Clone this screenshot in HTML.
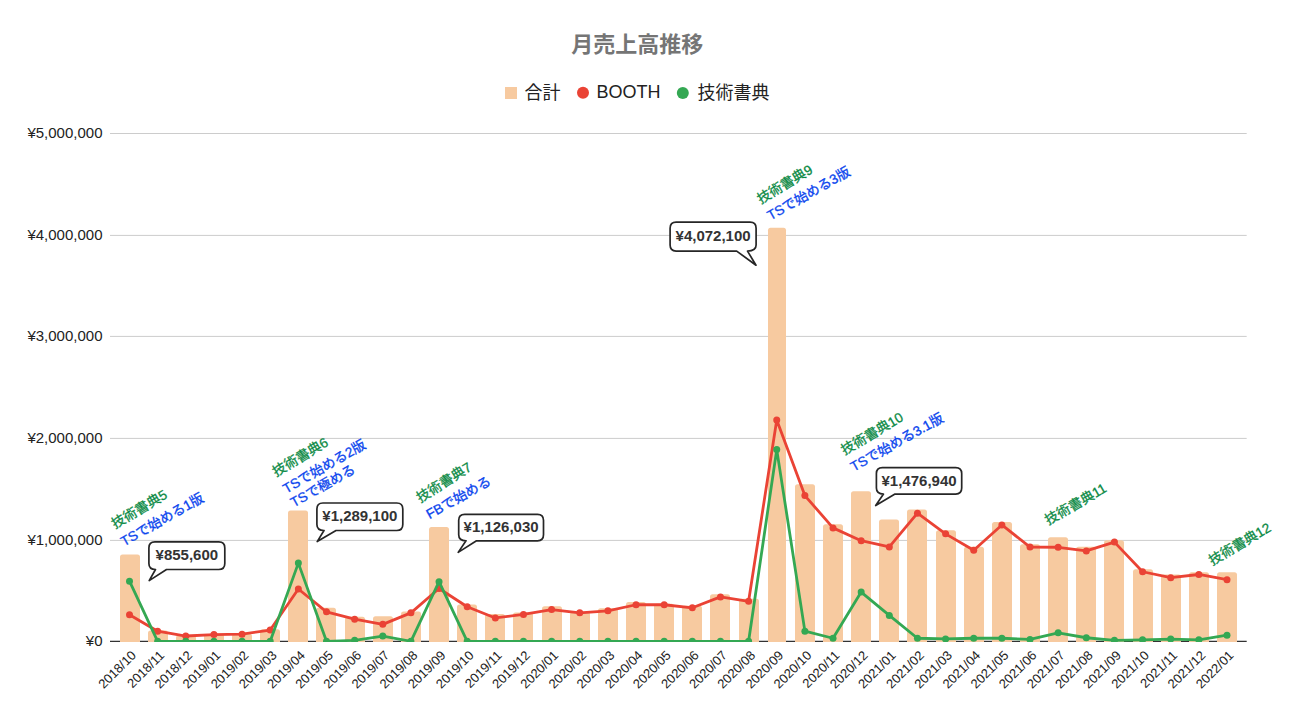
<!DOCTYPE html><html><head><meta charset="utf-8"><title>月売上高推移</title><style>
html,body{margin:0;padding:0;background:#fff;width:1290px;height:720px;overflow:hidden}
svg{display:block}
.lat{font-family:"Liberation Sans",Arial,"Noto Sans CJK JP",sans-serif}
.cjk{font-family:"Liberation Sans","Noto Sans CJK JP",sans-serif}
</style></head><body>
<svg width="1290" height="720" viewBox="0 0 1290 720">
<rect width="1290" height="720" fill="#fff"/>
<defs><clipPath id="ca"><rect x="100" y="0" width="1160" height="641.9"/></clipPath></defs>
<text class="cjk" x="637.3" y="52.2" text-anchor="middle" font-size="22" font-weight="bold" fill="#757575">月売上高推移</text>
<rect x="505" y="87" width="12" height="12" fill="#f7caa0"/>
<text class="cjk" x="524.5" y="99" font-size="18" fill="#222">合計</text>
<circle cx="583" cy="92.8" r="6" fill="#ea4335"/>
<text class="lat" x="596.5" y="98" font-size="18" fill="#222">BOOTH</text>
<circle cx="682.8" cy="93" r="6" fill="#34a853"/>
<text class="cjk" x="697.5" y="99" font-size="18" fill="#222">技術書典</text>
<line x1="110" x2="1246.7" y1="540.40" y2="540.40" stroke="#cccccc" stroke-width="1"/>
<line x1="110" x2="1246.7" y1="438.40" y2="438.40" stroke="#cccccc" stroke-width="1"/>
<line x1="110" x2="1246.7" y1="336.40" y2="336.40" stroke="#cccccc" stroke-width="1"/>
<line x1="110" x2="1246.7" y1="235.40" y2="235.40" stroke="#cccccc" stroke-width="1"/>
<line x1="110" x2="1246.7" y1="133.50" y2="133.50" stroke="#cccccc" stroke-width="1"/>
<text class="lat" x="102.5" y="646.00" text-anchor="end" font-size="15" fill="#222">¥0</text>
<text class="lat" x="102.5" y="545.00" text-anchor="end" font-size="15" fill="#222">¥1,000,000</text>
<text class="lat" x="102.5" y="443.00" text-anchor="end" font-size="15" fill="#222">¥2,000,000</text>
<text class="lat" x="102.5" y="341.00" text-anchor="end" font-size="15" fill="#222">¥3,000,000</text>
<text class="lat" x="102.5" y="240.00" text-anchor="end" font-size="15" fill="#222">¥4,000,000</text>
<text class="lat" x="102.5" y="138.10" text-anchor="end" font-size="15" fill="#222">¥5,000,000</text>
<line x1="110" x2="1246.7" y1="641.4" y2="641.4" stroke="#333" stroke-width="1.3"/>
<path d="M120.00,642.05 V556.92 Q120.00,554.42 122.50,554.42 H137.50 Q140.00,554.42 140.00,556.92 V642.05 Z" fill="#f7caa0"/>
<path d="M148.00,642.05 V633.04 Q148.00,630.54 150.50,630.54 H165.50 Q168.00,630.54 168.00,633.04 V642.05 Z" fill="#f7caa0"/>
<path d="M176.00,642.05 V637.81 Q176.00,635.31 178.50,635.31 H193.50 Q196.00,635.31 196.00,637.81 V642.05 Z" fill="#f7caa0"/>
<path d="M204.00,642.05 V636.49 Q204.00,633.99 206.50,633.99 H221.50 Q224.00,633.99 224.00,636.49 V642.05 Z" fill="#f7caa0"/>
<path d="M232.00,642.05 V636.18 Q232.00,633.68 234.50,633.68 H249.50 Q252.00,633.68 252.00,636.18 V642.05 Z" fill="#f7caa0"/>
<path d="M260.00,642.05 V631.82 Q260.00,629.32 262.50,629.32 H277.50 Q280.00,629.32 280.00,631.82 V642.05 Z" fill="#f7caa0"/>
<path d="M288.00,642.05 V512.90 Q288.00,510.40 290.50,510.40 H305.50 Q308.00,510.40 308.00,512.90 V642.05 Z" fill="#f7caa0"/>
<path d="M316.00,642.05 V610.19 Q316.00,607.69 318.50,607.69 H333.50 Q336.00,607.69 336.00,610.19 V642.05 Z" fill="#f7caa0"/>
<path d="M345.00,642.05 V619.23 Q345.00,616.73 347.50,616.73 H362.50 Q365.00,616.73 365.00,619.23 V642.05 Z" fill="#f7caa0"/>
<path d="M373.00,642.05 V618.72 Q373.00,616.22 375.50,616.22 H390.50 Q393.00,616.22 393.00,618.72 V642.05 Z" fill="#f7caa0"/>
<path d="M401.00,642.05 V614.05 Q401.00,611.55 403.50,611.55 H418.50 Q421.00,611.55 421.00,614.05 V642.05 Z" fill="#f7caa0"/>
<path d="M429.00,642.05 V529.46 Q429.00,526.96 431.50,526.96 H446.50 Q449.00,526.96 449.00,529.46 V642.05 Z" fill="#f7caa0"/>
<path d="M457.00,642.05 V606.94 Q457.00,604.44 459.50,604.44 H474.50 Q477.00,604.44 477.00,606.94 V642.05 Z" fill="#f7caa0"/>
<path d="M485.00,642.05 V616.59 Q485.00,614.09 487.50,614.09 H502.50 Q505.00,614.09 505.00,616.59 V642.05 Z" fill="#f7caa0"/>
<path d="M513.00,642.05 V614.96 Q513.00,612.46 515.50,612.46 H530.50 Q533.00,612.46 533.00,614.96 V642.05 Z" fill="#f7caa0"/>
<path d="M542.00,642.05 V608.77 Q542.00,606.27 544.50,606.27 H559.50 Q562.00,606.27 562.00,608.77 V642.05 Z" fill="#f7caa0"/>
<path d="M570.00,642.05 V614.35 Q570.00,611.85 572.50,611.85 H587.50 Q590.00,611.85 590.00,614.35 V642.05 Z" fill="#f7caa0"/>
<path d="M598.00,642.05 V610.80 Q598.00,608.30 600.50,608.30 H615.50 Q618.00,608.30 618.00,610.80 V642.05 Z" fill="#f7caa0"/>
<path d="M626.00,642.05 V604.61 Q626.00,602.11 628.50,602.11 H643.50 Q646.00,602.11 646.00,604.61 V642.05 Z" fill="#f7caa0"/>
<path d="M654.00,642.05 V606.23 Q654.00,603.73 656.50,603.73 H671.50 Q674.00,603.73 674.00,606.23 V642.05 Z" fill="#f7caa0"/>
<path d="M682.00,642.05 V608.26 Q682.00,605.76 684.50,605.76 H699.50 Q702.00,605.76 702.00,608.26 V642.05 Z" fill="#f7caa0"/>
<path d="M710.00,642.05 V596.79 Q710.00,594.29 712.50,594.29 H727.50 Q730.00,594.29 730.00,596.79 V642.05 Z" fill="#f7caa0"/>
<path d="M739.00,642.05 V601.25 Q739.00,598.75 741.50,598.75 H756.50 Q759.00,598.75 759.00,601.25 V642.05 Z" fill="#f7caa0"/>
<path d="M768.00,642.05 V230.32 Q768.00,227.82 770.50,227.82 H783.50 Q786.00,227.82 786.00,230.32 V642.05 Z" fill="#f7caa0"/>
<path d="M795.00,642.05 V486.82 Q795.00,484.32 797.50,484.32 H812.50 Q815.00,484.32 815.00,486.82 V642.05 Z" fill="#f7caa0"/>
<path d="M823.00,642.05 V526.83 Q823.00,524.33 825.50,524.33 H840.50 Q843.00,524.33 843.00,526.83 V642.05 Z" fill="#f7caa0"/>
<path d="M851.00,642.05 V493.83 Q851.00,491.33 853.50,491.33 H868.50 Q871.00,491.33 871.00,493.83 V642.05 Z" fill="#f7caa0"/>
<path d="M879.00,642.05 V521.95 Q879.00,519.45 881.50,519.45 H896.50 Q899.00,519.45 899.00,521.95 V642.05 Z" fill="#f7caa0"/>
<path d="M907.00,642.05 V512.00 Q907.00,509.50 909.50,509.50 H924.50 Q927.00,509.50 927.00,512.00 V642.05 Z" fill="#f7caa0"/>
<path d="M936.00,642.05 V532.82 Q936.00,530.32 938.50,530.32 H953.50 Q956.00,530.32 956.00,532.82 V642.05 Z" fill="#f7caa0"/>
<path d="M964.00,642.05 V549.37 Q964.00,546.87 966.50,546.87 H981.50 Q984.00,546.87 984.00,549.37 V642.05 Z" fill="#f7caa0"/>
<path d="M992.00,642.05 V524.49 Q992.00,521.99 994.50,521.99 H1009.50 Q1012.00,521.99 1012.00,524.49 V642.05 Z" fill="#f7caa0"/>
<path d="M1020.00,642.05 V546.83 Q1020.00,544.33 1022.50,544.33 H1037.50 Q1040.00,544.33 1040.00,546.83 V642.05 Z" fill="#f7caa0"/>
<path d="M1048.00,642.05 V539.72 Q1048.00,537.22 1050.50,537.22 H1065.50 Q1068.00,537.22 1068.00,539.72 V642.05 Z" fill="#f7caa0"/>
<path d="M1076.00,642.05 V549.37 Q1076.00,546.87 1078.50,546.87 H1093.50 Q1096.00,546.87 1096.00,549.37 V642.05 Z" fill="#f7caa0"/>
<path d="M1104.00,642.05 V542.67 Q1104.00,540.17 1106.50,540.17 H1121.50 Q1124.00,540.17 1124.00,542.67 V642.05 Z" fill="#f7caa0"/>
<path d="M1133.00,642.05 V571.81 Q1133.00,569.31 1135.50,569.31 H1150.50 Q1153.00,569.31 1153.00,571.81 V642.05 Z" fill="#f7caa0"/>
<path d="M1161.00,642.05 V576.99 Q1161.00,574.49 1163.50,574.49 H1178.50 Q1181.00,574.49 1181.00,576.99 V642.05 Z" fill="#f7caa0"/>
<path d="M1189.00,642.05 V574.65 Q1189.00,572.15 1191.50,572.15 H1206.50 Q1209.00,572.15 1209.00,574.65 V642.05 Z" fill="#f7caa0"/>
<path d="M1217.00,642.05 V574.65 Q1217.00,572.15 1219.50,572.15 H1234.50 Q1237.00,572.15 1237.00,574.65 V642.05 Z" fill="#f7caa0"/>
<g clip-path="url(#ca)">
<polyline points="129.50,614.80 157.64,631.20 185.78,636.02 213.92,634.60 242.06,634.19 270.20,630.03 298.35,589.01 326.49,611.85 354.63,619.16 382.77,624.34 410.91,612.87 439.05,588.50 467.19,606.78 495.33,617.95 523.47,614.39 551.62,609.52 579.76,612.87 607.90,610.84 636.04,604.75 664.18,604.75 692.32,607.79 720.46,596.93 748.60,601.29 776.74,419.94 804.88,495.59 833.02,527.88 861.17,540.67 889.31,546.97 917.45,513.16 945.59,533.87 973.73,550.22 1001.87,524.94 1030.01,547.07 1058.15,547.27 1086.29,550.93 1114.43,542.10 1142.58,571.75 1170.72,577.63 1198.86,574.49 1227.00,579.67" fill="none" stroke="#ea4335" stroke-width="2.8" stroke-linejoin="round" stroke-linecap="round"/>
<circle cx="129.50" cy="614.80" r="3.5" fill="#ea4335"/>
<circle cx="157.64" cy="631.20" r="3.5" fill="#ea4335"/>
<circle cx="185.78" cy="636.02" r="3.5" fill="#ea4335"/>
<circle cx="213.92" cy="634.60" r="3.5" fill="#ea4335"/>
<circle cx="242.06" cy="634.19" r="3.5" fill="#ea4335"/>
<circle cx="270.20" cy="630.03" r="3.5" fill="#ea4335"/>
<circle cx="298.35" cy="589.01" r="3.5" fill="#ea4335"/>
<circle cx="326.49" cy="611.85" r="3.5" fill="#ea4335"/>
<circle cx="354.63" cy="619.16" r="3.5" fill="#ea4335"/>
<circle cx="382.77" cy="624.34" r="3.5" fill="#ea4335"/>
<circle cx="410.91" cy="612.87" r="3.5" fill="#ea4335"/>
<circle cx="439.05" cy="588.50" r="3.5" fill="#ea4335"/>
<circle cx="467.19" cy="606.78" r="3.5" fill="#ea4335"/>
<circle cx="495.33" cy="617.95" r="3.5" fill="#ea4335"/>
<circle cx="523.47" cy="614.39" r="3.5" fill="#ea4335"/>
<circle cx="551.62" cy="609.52" r="3.5" fill="#ea4335"/>
<circle cx="579.76" cy="612.87" r="3.5" fill="#ea4335"/>
<circle cx="607.90" cy="610.84" r="3.5" fill="#ea4335"/>
<circle cx="636.04" cy="604.75" r="3.5" fill="#ea4335"/>
<circle cx="664.18" cy="604.75" r="3.5" fill="#ea4335"/>
<circle cx="692.32" cy="607.79" r="3.5" fill="#ea4335"/>
<circle cx="720.46" cy="596.93" r="3.5" fill="#ea4335"/>
<circle cx="748.60" cy="601.29" r="3.5" fill="#ea4335"/>
<circle cx="776.74" cy="419.94" r="3.5" fill="#ea4335"/>
<circle cx="804.88" cy="495.59" r="3.5" fill="#ea4335"/>
<circle cx="833.02" cy="527.88" r="3.5" fill="#ea4335"/>
<circle cx="861.17" cy="540.67" r="3.5" fill="#ea4335"/>
<circle cx="889.31" cy="546.97" r="3.5" fill="#ea4335"/>
<circle cx="917.45" cy="513.16" r="3.5" fill="#ea4335"/>
<circle cx="945.59" cy="533.87" r="3.5" fill="#ea4335"/>
<circle cx="973.73" cy="550.22" r="3.5" fill="#ea4335"/>
<circle cx="1001.87" cy="524.94" r="3.5" fill="#ea4335"/>
<circle cx="1030.01" cy="547.07" r="3.5" fill="#ea4335"/>
<circle cx="1058.15" cy="547.27" r="3.5" fill="#ea4335"/>
<circle cx="1086.29" cy="550.93" r="3.5" fill="#ea4335"/>
<circle cx="1114.43" cy="542.10" r="3.5" fill="#ea4335"/>
<circle cx="1142.58" cy="571.75" r="3.5" fill="#ea4335"/>
<circle cx="1170.72" cy="577.63" r="3.5" fill="#ea4335"/>
<circle cx="1198.86" cy="574.49" r="3.5" fill="#ea4335"/>
<circle cx="1227.00" cy="579.67" r="3.5" fill="#ea4335"/>
<polyline points="129.50,581.19 157.64,641.30 185.78,641.30 213.92,641.30 242.06,641.30 270.20,641.30 298.35,563.11 326.49,641.30 354.63,640.28 382.77,636.02 410.91,641.30 439.05,581.70 467.19,641.30 495.33,641.30 523.47,641.30 551.62,641.30 579.76,641.30 607.90,641.30 636.04,641.30 664.18,641.30 692.32,641.30 720.46,641.30 748.60,641.30 776.74,449.59 804.88,631.15 833.02,638.25 861.17,592.05 889.31,615.41 917.45,638.25 945.59,638.96 973.73,638.25 1001.87,638.25 1030.01,639.47 1058.15,632.77 1086.29,637.75 1114.43,640.28 1142.58,639.78 1170.72,639.07 1198.86,639.78 1227.00,635.21" fill="none" stroke="#34a853" stroke-width="2.8" stroke-linejoin="round" stroke-linecap="round"/>
<circle cx="129.50" cy="581.19" r="3.5" fill="#34a853"/>
<circle cx="157.64" cy="641.30" r="3.5" fill="#34a853"/>
<circle cx="185.78" cy="641.30" r="3.5" fill="#34a853"/>
<circle cx="213.92" cy="641.30" r="3.5" fill="#34a853"/>
<circle cx="242.06" cy="641.30" r="3.5" fill="#34a853"/>
<circle cx="270.20" cy="641.30" r="3.5" fill="#34a853"/>
<circle cx="298.35" cy="563.11" r="3.5" fill="#34a853"/>
<circle cx="326.49" cy="641.30" r="3.5" fill="#34a853"/>
<circle cx="354.63" cy="640.28" r="3.5" fill="#34a853"/>
<circle cx="382.77" cy="636.02" r="3.5" fill="#34a853"/>
<circle cx="410.91" cy="641.30" r="3.5" fill="#34a853"/>
<circle cx="439.05" cy="581.70" r="3.5" fill="#34a853"/>
<circle cx="467.19" cy="641.30" r="3.5" fill="#34a853"/>
<circle cx="495.33" cy="641.30" r="3.5" fill="#34a853"/>
<circle cx="523.47" cy="641.30" r="3.5" fill="#34a853"/>
<circle cx="551.62" cy="641.30" r="3.5" fill="#34a853"/>
<circle cx="579.76" cy="641.30" r="3.5" fill="#34a853"/>
<circle cx="607.90" cy="641.30" r="3.5" fill="#34a853"/>
<circle cx="636.04" cy="641.30" r="3.5" fill="#34a853"/>
<circle cx="664.18" cy="641.30" r="3.5" fill="#34a853"/>
<circle cx="692.32" cy="641.30" r="3.5" fill="#34a853"/>
<circle cx="720.46" cy="641.30" r="3.5" fill="#34a853"/>
<circle cx="748.60" cy="641.30" r="3.5" fill="#34a853"/>
<circle cx="776.74" cy="449.59" r="3.5" fill="#34a853"/>
<circle cx="804.88" cy="631.15" r="3.5" fill="#34a853"/>
<circle cx="833.02" cy="638.25" r="3.5" fill="#34a853"/>
<circle cx="861.17" cy="592.05" r="3.5" fill="#34a853"/>
<circle cx="889.31" cy="615.41" r="3.5" fill="#34a853"/>
<circle cx="917.45" cy="638.25" r="3.5" fill="#34a853"/>
<circle cx="945.59" cy="638.96" r="3.5" fill="#34a853"/>
<circle cx="973.73" cy="638.25" r="3.5" fill="#34a853"/>
<circle cx="1001.87" cy="638.25" r="3.5" fill="#34a853"/>
<circle cx="1030.01" cy="639.47" r="3.5" fill="#34a853"/>
<circle cx="1058.15" cy="632.77" r="3.5" fill="#34a853"/>
<circle cx="1086.29" cy="637.75" r="3.5" fill="#34a853"/>
<circle cx="1114.43" cy="640.28" r="3.5" fill="#34a853"/>
<circle cx="1142.58" cy="639.78" r="3.5" fill="#34a853"/>
<circle cx="1170.72" cy="639.07" r="3.5" fill="#34a853"/>
<circle cx="1198.86" cy="639.78" r="3.5" fill="#34a853"/>
<circle cx="1227.00" cy="635.21" r="3.5" fill="#34a853"/>
</g>
<text class="lat" x="136.90" y="656.10" text-anchor="end" font-size="13" fill="#222" transform="rotate(-45 136.90 656.10)">2018/10</text>
<text class="lat" x="165.04" y="656.10" text-anchor="end" font-size="13" fill="#222" transform="rotate(-45 165.04 656.10)">2018/11</text>
<text class="lat" x="193.18" y="656.10" text-anchor="end" font-size="13" fill="#222" transform="rotate(-45 193.18 656.10)">2018/12</text>
<text class="lat" x="221.32" y="656.10" text-anchor="end" font-size="13" fill="#222" transform="rotate(-45 221.32 656.10)">2019/01</text>
<text class="lat" x="249.46" y="656.10" text-anchor="end" font-size="13" fill="#222" transform="rotate(-45 249.46 656.10)">2019/02</text>
<text class="lat" x="277.60" y="656.10" text-anchor="end" font-size="13" fill="#222" transform="rotate(-45 277.60 656.10)">2019/03</text>
<text class="lat" x="305.75" y="656.10" text-anchor="end" font-size="13" fill="#222" transform="rotate(-45 305.75 656.10)">2019/04</text>
<text class="lat" x="333.89" y="656.10" text-anchor="end" font-size="13" fill="#222" transform="rotate(-45 333.89 656.10)">2019/05</text>
<text class="lat" x="362.03" y="656.10" text-anchor="end" font-size="13" fill="#222" transform="rotate(-45 362.03 656.10)">2019/06</text>
<text class="lat" x="390.17" y="656.10" text-anchor="end" font-size="13" fill="#222" transform="rotate(-45 390.17 656.10)">2019/07</text>
<text class="lat" x="418.31" y="656.10" text-anchor="end" font-size="13" fill="#222" transform="rotate(-45 418.31 656.10)">2019/08</text>
<text class="lat" x="446.45" y="656.10" text-anchor="end" font-size="13" fill="#222" transform="rotate(-45 446.45 656.10)">2019/09</text>
<text class="lat" x="474.59" y="656.10" text-anchor="end" font-size="13" fill="#222" transform="rotate(-45 474.59 656.10)">2019/10</text>
<text class="lat" x="502.73" y="656.10" text-anchor="end" font-size="13" fill="#222" transform="rotate(-45 502.73 656.10)">2019/11</text>
<text class="lat" x="530.87" y="656.10" text-anchor="end" font-size="13" fill="#222" transform="rotate(-45 530.87 656.10)">2019/12</text>
<text class="lat" x="559.01" y="656.10" text-anchor="end" font-size="13" fill="#222" transform="rotate(-45 559.01 656.10)">2020/01</text>
<text class="lat" x="587.16" y="656.10" text-anchor="end" font-size="13" fill="#222" transform="rotate(-45 587.16 656.10)">2020/02</text>
<text class="lat" x="615.30" y="656.10" text-anchor="end" font-size="13" fill="#222" transform="rotate(-45 615.30 656.10)">2020/03</text>
<text class="lat" x="643.44" y="656.10" text-anchor="end" font-size="13" fill="#222" transform="rotate(-45 643.44 656.10)">2020/04</text>
<text class="lat" x="671.58" y="656.10" text-anchor="end" font-size="13" fill="#222" transform="rotate(-45 671.58 656.10)">2020/05</text>
<text class="lat" x="699.72" y="656.10" text-anchor="end" font-size="13" fill="#222" transform="rotate(-45 699.72 656.10)">2020/06</text>
<text class="lat" x="727.86" y="656.10" text-anchor="end" font-size="13" fill="#222" transform="rotate(-45 727.86 656.10)">2020/07</text>
<text class="lat" x="756.00" y="656.10" text-anchor="end" font-size="13" fill="#222" transform="rotate(-45 756.00 656.10)">2020/08</text>
<text class="lat" x="784.14" y="656.10" text-anchor="end" font-size="13" fill="#222" transform="rotate(-45 784.14 656.10)">2020/09</text>
<text class="lat" x="812.28" y="656.10" text-anchor="end" font-size="13" fill="#222" transform="rotate(-45 812.28 656.10)">2020/10</text>
<text class="lat" x="840.42" y="656.10" text-anchor="end" font-size="13" fill="#222" transform="rotate(-45 840.42 656.10)">2020/11</text>
<text class="lat" x="868.57" y="656.10" text-anchor="end" font-size="13" fill="#222" transform="rotate(-45 868.57 656.10)">2020/12</text>
<text class="lat" x="896.71" y="656.10" text-anchor="end" font-size="13" fill="#222" transform="rotate(-45 896.71 656.10)">2021/01</text>
<text class="lat" x="924.85" y="656.10" text-anchor="end" font-size="13" fill="#222" transform="rotate(-45 924.85 656.10)">2021/02</text>
<text class="lat" x="952.99" y="656.10" text-anchor="end" font-size="13" fill="#222" transform="rotate(-45 952.99 656.10)">2021/03</text>
<text class="lat" x="981.13" y="656.10" text-anchor="end" font-size="13" fill="#222" transform="rotate(-45 981.13 656.10)">2021/04</text>
<text class="lat" x="1009.27" y="656.10" text-anchor="end" font-size="13" fill="#222" transform="rotate(-45 1009.27 656.10)">2021/05</text>
<text class="lat" x="1037.41" y="656.10" text-anchor="end" font-size="13" fill="#222" transform="rotate(-45 1037.41 656.10)">2021/06</text>
<text class="lat" x="1065.55" y="656.10" text-anchor="end" font-size="13" fill="#222" transform="rotate(-45 1065.55 656.10)">2021/07</text>
<text class="lat" x="1093.69" y="656.10" text-anchor="end" font-size="13" fill="#222" transform="rotate(-45 1093.69 656.10)">2021/08</text>
<text class="lat" x="1121.84" y="656.10" text-anchor="end" font-size="13" fill="#222" transform="rotate(-45 1121.84 656.10)">2021/09</text>
<text class="lat" x="1149.98" y="656.10" text-anchor="end" font-size="13" fill="#222" transform="rotate(-45 1149.98 656.10)">2021/10</text>
<text class="lat" x="1178.12" y="656.10" text-anchor="end" font-size="13" fill="#222" transform="rotate(-45 1178.12 656.10)">2021/11</text>
<text class="lat" x="1206.26" y="656.10" text-anchor="end" font-size="13" fill="#222" transform="rotate(-45 1206.26 656.10)">2021/12</text>
<text class="lat" x="1234.40" y="656.10" text-anchor="end" font-size="13" fill="#222" transform="rotate(-45 1234.40 656.10)">2022/01</text>
<text class="cjk" x="0" y="0" font-size="13.6" font-weight="400" fill="#0b8a45" stroke="#0b8a45" stroke-width="0.3" transform="translate(115.10 529.10) rotate(-30.78)">技術書典5</text>
<text class="cjk" x="0" y="0" font-size="13.6" font-weight="400" fill="#0a45ee" stroke="#0a45ee" stroke-width="0.3" transform="translate(124.10 546.45) rotate(-29.51)">TSで始める1版</text>
<text class="cjk" x="0" y="0" font-size="13.6" font-weight="400" fill="#0b8a45" stroke="#0b8a45" stroke-width="0.3" transform="translate(276.10 476.90) rotate(-30.85)">技術書典6</text>
<text class="cjk" x="0" y="0" font-size="13.6" font-weight="400" fill="#0a45ee" stroke="#0a45ee" stroke-width="0.3" transform="translate(286.30 493.65) rotate(-29.81)">TSで始める2版</text>
<text class="cjk" x="0" y="0" font-size="13.6" font-weight="400" fill="#0a45ee" stroke="#0a45ee" stroke-width="0.3" transform="translate(293.85 507.45) rotate(-29.22)">TSで極める</text>
<text class="cjk" x="0" y="0" font-size="13.6" font-weight="400" fill="#0b8a45" stroke="#0b8a45" stroke-width="0.3" transform="translate(420.35 502.90) rotate(-32.35)">技術書典7</text>
<text class="cjk" x="0" y="0" font-size="13.6" font-weight="400" fill="#0a45ee" stroke="#0a45ee" stroke-width="0.3" transform="translate(429.55 519.35) rotate(-29.48)">FBで始める</text>
<text class="cjk" x="0" y="0" font-size="13.6" font-weight="400" fill="#0b8a45" stroke="#0b8a45" stroke-width="0.3" transform="translate(760.70 204.30) rotate(-31.19)">技術書典9</text>
<text class="cjk" x="0" y="0" font-size="13.6" font-weight="400" fill="#0a45ee" stroke="#0a45ee" stroke-width="0.3" transform="translate(770.50 220.50) rotate(-29.69)">TSで始める3版</text>
<text class="cjk" x="0" y="0" font-size="13.6" font-weight="400" fill="#0b8a45" stroke="#0b8a45" stroke-width="0.3" transform="translate(844.45 455.30) rotate(-30.49)">技術書典10</text>
<text class="cjk" x="0" y="0" font-size="13.6" font-weight="400" fill="#0a45ee" stroke="#0a45ee" stroke-width="0.3" transform="translate(853.65 471.80) rotate(-29.30)">TSで始める3.1版</text>
<text class="cjk" x="0" y="0" font-size="13.6" font-weight="400" fill="#0b8a45" stroke="#0b8a45" stroke-width="0.3" transform="translate(1048.35 525.35) rotate(-30.08)">技術書典11</text>
<text class="cjk" x="0" y="0" font-size="13.6" font-weight="400" fill="#0b8a45" stroke="#0b8a45" stroke-width="0.3" transform="translate(1212.25 565.65) rotate(-30.59)">技術書典12</text>
<path d="M154.9,541.9 H218.8 Q224.8,541.9 224.8,547.9 V563.5 Q224.8,569.5 218.8,569.5 H166.5 L149.2,580.6 L155.5,569.5 Q148.9,569.5 148.9,563.5 V547.9 Q148.9,541.9 154.9,541.9 Z" fill="#fff" stroke="#262626" stroke-width="1.7" stroke-linejoin="round"/>
<text class="lat" x="186.85" y="560.40" text-anchor="middle" font-size="15" font-weight="bold" fill="#333">¥855,600</text>
<path d="M322.9,503.0 H396.8 Q402.8,503.0 402.8,509.0 V524.5 Q402.8,530.5 396.8,530.5 H336.0 L317.2,541.6 L324.0,530.5 Q316.9,530.5 316.9,524.5 V509.0 Q316.9,503.0 322.9,503.0 Z" fill="#fff" stroke="#262626" stroke-width="1.7" stroke-linejoin="round"/>
<text class="lat" x="359.85" y="521.45" text-anchor="middle" font-size="15" font-weight="bold" fill="#333">¥1,289,100</text>
<path d="M464.7,514.3 H537.5 Q543.5,514.3 543.5,520.3 V534.8 Q543.5,540.8 537.5,540.8 H476.5 L458.2,552.4 L466.0,540.8 Q458.7,540.8 458.7,534.8 V520.3 Q458.7,514.3 464.7,514.3 Z" fill="#fff" stroke="#262626" stroke-width="1.7" stroke-linejoin="round"/>
<text class="lat" x="501.10" y="532.25" text-anchor="middle" font-size="15" font-weight="bold" fill="#333">¥1,126,030</text>
<path d="M676.1,222.2 H750.1 Q756.1,222.2 756.1,228.2 V245.1 Q756.1,251.1 747.5,251.1 L756.0,265.2 L736.7,251.1 H676.1 Q670.1,251.1 670.1,245.1 V228.2 Q670.1,222.2 676.1,222.2 Z" fill="#fff" stroke="#262626" stroke-width="1.7" stroke-linejoin="round"/>
<text class="lat" x="713.10" y="241.35" text-anchor="middle" font-size="15" font-weight="bold" fill="#333">¥4,072,100</text>
<path d="M882.4,467.6 H955.7 Q961.7,467.6 961.7,473.6 V488.1 Q961.7,494.1 955.7,494.1 H895.0 L875.7,505.5 L883.5,494.1 Q876.4,494.1 876.4,488.1 V473.6 Q876.4,467.6 882.4,467.6 Z" fill="#fff" stroke="#262626" stroke-width="1.7" stroke-linejoin="round"/>
<text class="lat" x="919.05" y="485.55" text-anchor="middle" font-size="15" font-weight="bold" fill="#333">¥1,476,940</text>
</svg></body></html>
